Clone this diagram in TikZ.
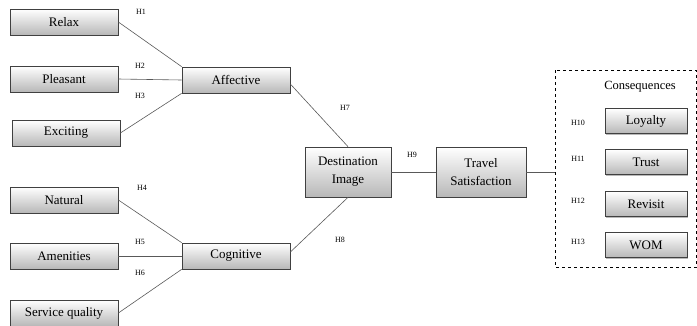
\documentclass[tikz,border=0pt]{standalone}
\usepackage{fontspec}
\setmainfont{Liberation Serif}
\usetikzlibrary{shadows}

\tikzset{
	factor/.style={draw=black!75, line width=0.7pt, top color=white, bottom color=black!28,
		minimum width=108pt, minimum height=26pt, inner sep=1pt, align=center,
		font=\fontsize{13}{18}\selectfont,
		drop shadow={shadow xshift=1.2pt, shadow yshift=-1.2pt, fill=black!55}},
	small/.style={factor, minimum width=82pt, minimum height=25pt},
	big/.style={factor, minimum width=86pt, minimum height=50pt},
	hyp/.style={font=\fontsize{8}{9}\selectfont},
	link/.style={draw=black!65, line width=0.6pt}
}

\begin{document}
\begin{tikzpicture}[x=1pt,y=-1pt]
		\useasboundingbox (0,0) rectangle (697,325);
		% antecedents
		\node[factor] (relax) at (64,22) {Relax};
		\node[factor] (pleasant) at (64,79) {Pleasant};
		\node[factor] (exciting) at (66,133) {Exciting};
		\node[factor] (natural) at (64,200) {Natural};
		\node[factor] (amenities) at (64,256) {Amenities};
		\node[factor] (service) at (64,313) {Service quality};
		% image components
		\node[factor] (affective) at (236,80) {Affective};
		\node[factor] (cognitive) at (236,256) {Cognitive};
		\node[big] (image) at (348,172) {Destination\\Image};
		\node[big, minimum width=90pt] (satisf) at (481,172) {Travel\\Satisfaction};
		% consequences
		\draw[dashed, line width=0.6pt] (555,70) rectangle (696.5,267);
		\coordinate (cons) at (555,172);
		\node[font=\fontsize{12.5}{14}\selectfont] (constitle) at (640,87) {Consequences};
		\node[small] (loyalty) at (646,121) {Loyalty};
		\node[small] (trust) at (646,162) {Trust};
		\node[small] (revisit) at (646,204) {Revisit};
		\node[small] (wom) at (646,245) {WOM};

		\draw[link] (relax.east) -- (affective.north west);
		\draw[link] (pleasant.east) -- (affective.west);
		\draw[link] (exciting.east) -- (affective.south west);
		\draw[link] (natural.east) -- (cognitive.north west);
		\draw[link] (amenities.east) -- (cognitive.west);
		\draw[link] (service.east) -- (cognitive.south west);
		\draw[link] ([yshift=-4pt]affective.east) -- (image.north);
		\draw[link] ([yshift=4pt]cognitive.east) -- (image.south);
		\draw[link] (image.east) -- (satisf.west);
		\draw[link] (satisf.east) -- (cons);

		% hypotheses
		\node[hyp] (h1) at (141,12) {H1};
		\node[hyp] (h2) at (140,66) {H2};
		\node[hyp] (h3) at (140,96) {H3};
		\node[hyp] (h4) at (142,188) {H4};
		\node[hyp] (h5) at (140,242) {H5};
		\node[hyp] (h6) at (140,273) {H6};
		\node[hyp] (h7) at (345,108) {H7};
		\node[hyp] (h8) at (340,240) {H8};
		\node[hyp] (h9) at (412,155) {H9};
		\node[hyp] (h10) at (578,123) {H10};
		\node[hyp] (h11) at (578,159) {H11};
		\node[hyp] (h12) at (578,201) {H12};
		\node[hyp] (h13) at (578,242) {H13};
	\end{tikzpicture}
\end{document}
